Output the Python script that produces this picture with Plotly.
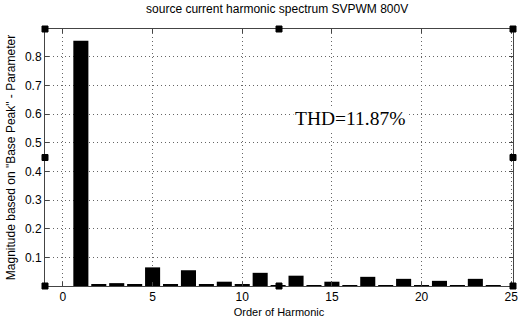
import plotly.graph_objects as go

harmonic_order = list(range(0, 25))
magnitude = [0.0, 0.856, 0.006, 0.010, 0.005, 0.065, 0.005, 0.055, 0.005, 0.015, 0.005,
             0.046, 0.003, 0.036, 0.003, 0.015, 0.003, 0.032, 0.003, 0.025, 0.003,
             0.018, 0.003, 0.025, 0.003]
x_ticks = [0, 5, 10, 15, 20, 25]
y_ticks = [0, 0.1, 0.2, 0.3, 0.4, 0.5, 0.6, 0.7, 0.8]
title_text = "source current harmonic spectrum SVPWM 800V"
x_label = "Order of Harmonic"
y_label = 'Magnitude based on "Base Peak" - Parameter'
thd_text = "THD=11.87%"

tickfont = dict(family="Liberation Sans Narrow, Arial Narrow, Liberation Sans", size=12, color="black")

fig = go.Figure()
fig.add_trace(go.Bar(x=harmonic_order, y=magnitude, width=0.84,
                     marker=dict(color="black", line=dict(width=0))))

fig.update_layout(
    width=518, height=326,
    margin=dict(l=45, r=5, t=29, b=40, autoexpand=False),
    paper_bgcolor="white", plot_bgcolor="white",
    showlegend=False,
    title=dict(text=title_text, x=0.535, xanchor="center", y=0.985, yanchor="top",
               font=dict(family="Liberation Sans Narrow, Liberation Sans", size=12, color="black")),
    xaxis=dict(range=[-1, 25.1], tickvals=x_ticks, ticktext=[str(v) for v in x_ticks],
               showgrid=True, gridcolor="#666", griddash="1px,3px", gridwidth=1,
               showline=True, linecolor="#444", linewidth=1, mirror="ticks",
               ticks="inside", ticklen=4, tickcolor="#444", tickfont=tickfont,
               ticklabeloverflow="allow", automargin=False,
               zeroline=False,
               title=dict(text=x_label, standoff=4,
                          font=dict(family="Liberation Sans Narrow, Liberation Sans", size=11, color="black"))),
    yaxis=dict(range=[0, 0.897], tickvals=y_ticks, ticktext=[""] + [str(v) for v in y_ticks[1:]],
               showgrid=True, gridcolor="#666", griddash="1px,3px", gridwidth=1,
               showline=True, linecolor="#444", linewidth=1, mirror="ticks",
               ticks="inside", ticklen=4, tickcolor="#444", tickfont=tickfont,
               automargin=False,
               zeroline=False,
               title=dict(text=y_label, standoff=6,
                          font=dict(family="Liberation Sans, Arial", size=12, color="black"))),
    font=dict(family="Liberation Sans"),
)

fig.add_annotation(x=0.652, y=0.65, xref="paper", yref="paper", text=thd_text, showarrow=False,
                   font=dict(family="Liberation Serif, Times New Roman", size=19.5, color="black"),
                   bgcolor="white", xanchor="center", yanchor="middle")

# selection handle squares around the axes
for px, py in [(0, 0), (0.5, 0), (1, 0), (0, 0.5), (1, 0.5), (0, 1), (0.5, 1), (1, 1)]:
    fig.add_shape(type="rect", xref="paper", yref="paper",
                  x0=-3, x1=3, y0=-3, y1=3,
                  xsizemode="pixel", ysizemode="pixel", xanchor=px, yanchor=py,
                  line=dict(color="black", width=1), fillcolor="black")

fig.write_html("out.html")
